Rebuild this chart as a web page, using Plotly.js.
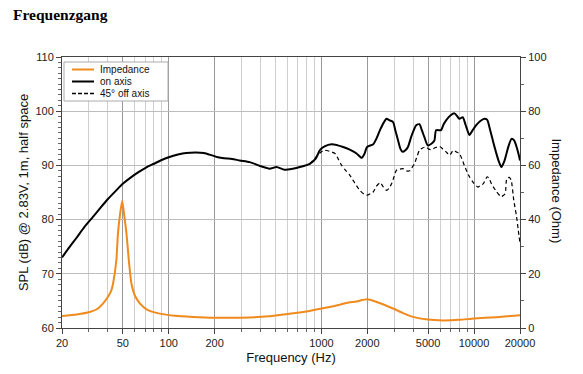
<!DOCTYPE html>
<html>
<head>
<meta charset="utf-8">
<script src="https://cdn.plot.ly/plotly-3.0.1.min.js"></script>
<style>html,body{margin:0;padding:0;background:#fff;}#chart{width:583px;height:374px;}</style>
</head>
<body>
<div id="chart"></div>
<script>
// ---- Data ----
var onAxisFreq = [20,22.5,25,28,31.9,36,40,45,50,56,63,71,80,90,100,115,130,150,170,190,210,230,260,292,339,396,458,508,574,650,722,840,920,978,1050,1166,1280,1388,1534,1700,1838,1920,1990,2185,2300,2420,2550,2670,2800,2950,3050,3180,3300,3400,3550,3690,3900,4180,4390,4550,4730,4970,5200,5500,5640,6080,6300,6560,7000,7440,7700,8020,8430,8800,9330,9800,10300,11000,11700,12200,12600,13300,14000,14500,15100,15800,16800,17600,18300,19000,19600,20000];
var onAxisSpl = [73.0,75.0,76.7,78.6,80.5,82.3,83.8,85.3,86.6,87.7,88.7,89.6,90.3,91.0,91.5,92.0,92.3,92.4,92.3,91.9,91.5,91.3,91.2,90.9,90.6,89.9,89.4,89.7,89.2,89.4,89.7,90.3,91.3,92.8,93.5,93.9,93.7,93.4,92.9,92.2,91.4,92.2,93.4,93.9,95.0,96.5,97.8,98.6,98.3,98.0,96.5,94.6,93.0,92.5,92.8,93.4,95.5,97.4,97.6,96.5,95.2,93.7,93.9,94.6,96.5,96.5,97.5,98.3,99.2,99.6,99.2,98.6,98.9,97.5,95.6,96.5,97.4,98.2,98.6,98.4,97.1,94.5,92.2,90.8,89.7,90.8,93.5,94.9,94.6,93.4,92.0,90.9];

var offAxisFreq = [840,920,1000,1050,1130,1228,1300,1358,1450,1534,1650,1786,1900,1990,2100,2185,2300,2430,2550,2670,2780,2880,3000,3100,3250,3420,3600,3780,3900,4070,4250,4390,4600,4850,5040,5240,5600,5960,6260,6560,6940,7300,7650,8020,8300,8640,9000,9330,9900,10600,11000,11480,12200,12600,13000,14000,15100,15600,16000,16400,17000,17500,18200,19000,19500,20000];
var offAxisSpl = [90.3,91.5,92.5,92.8,92.6,92.2,91.0,90.0,89.0,88.2,86.8,85.4,84.7,84.5,84.8,85.1,86.2,86.8,86.0,85.4,85.8,86.6,88.0,89.1,89.3,89.4,89.0,89.0,89.5,90.3,91.8,92.8,93.2,93.4,93.0,92.9,93.3,93.5,93.0,92.5,91.9,92.8,92.5,92.2,91.3,90.0,88.8,87.9,86.8,86.0,86.3,86.6,87.9,87.5,86.6,85.2,84.2,84.5,84.8,87.6,87.8,87.3,83.6,80.5,78.0,75.6];

var impFreq = [20,25,30.4,34,37.1,40,42.1,43.2,45.4,46.5,48,49.6,51,52.9,55,57,60,64.9,72,87.4,110,144,200,300,450,620,722,1000,1200,1460,1700,2000,2300,2600,2950,3400,3980,4970,6260,8000,10000,14000,20000];
var impOhm = [4.4,5.0,5.9,7.0,9.0,11.5,13.9,16.4,25,34.8,42,47,42,34.8,24,16.4,12,9.0,6.8,5.3,4.5,4.1,3.8,3.8,4.3,5.3,5.7,7.2,8.0,9.2,9.8,10.6,9.6,8.5,7.2,5.6,4.1,3.1,2.8,3.0,3.5,4.0,4.7];

var seriesNames = ['Impedance', 'on axis', '45° off axis'];
var xMajorTicks = [20,50,100,200,1000,2000,5000,10000,20000];
var xMajorLabels = ['20','50','100','200','1000','2000','5000','10000','20000'];
var xMinorTicks = [30,40,60,70,80,90,300,400,500,600,700,800,900,3000,4000,6000,7000,8000,9000];

// ---- Plot ----
var W = 583, H = 374, ML = 62, MR = 63, MT = 57, MB = 46;
var PW = W - ML - MR, PH = H - MT - MB;
function px(x){ return (x - ML) / PW; }
function py(y){ return (H - MB - y) / PH; }

var orange = '#f08a1c';
var tickFont = {family:'Liberation Sans, Arial, sans-serif', size:11, color:'#222'};
var traces = [
  {x:impFreq, y:impOhm, name:seriesNames[0], type:'scatter', mode:'lines', yaxis:'y2',
   line:{color:orange, width:2, shape:'spline', smoothing:0.6}},
  {x:onAxisFreq, y:onAxisSpl, name:seriesNames[1], type:'scatter', mode:'lines',
   line:{color:'#000', width:2, shape:'spline', smoothing:0.6}},
  {x:offAxisFreq, y:offAxisSpl, name:seriesNames[2], type:'scatter', mode:'lines',
   line:{color:'#000', width:1.2, dash:'4px,3px', shape:'spline', smoothing:0.6}}
];

// custom compact legend (box, samples, labels)
var legRows = [69.5, 81.5, 93.5];
var legStyles = [{color:orange, width:2}, {color:'#000', width:2}, {color:'#000', width:1.3, dash:'4px,2px'}];
var shapes = [{type:'rect', xref:'paper', yref:'paper', x0:px(64), x1:px(168), y0:py(101), y1:py(62),
               line:{color:'#aaa', width:1}, fillcolor:'#fff', layer:'above'}];
var annotations = [];
for (var i = 0; i < 3; i++) {
  shapes.push({type:'line', xref:'paper', yref:'paper', x0:px(72), x1:px(94), y0:py(legRows[i]), y1:py(legRows[i]),
               line:legStyles[i], layer:'above'});
  annotations.push({xref:'paper', yref:'paper', x:px(98.5), y:py(legRows[i]), xanchor:'left', yanchor:'middle',
                    showarrow:false, borderpad:0, text:seriesNames[i], font:{size:10, color:'#111'}});
}
annotations.push({xref:'paper', yref:'paper', x:px(556.5), y:py(191), xanchor:'center', yanchor:'middle',
                  showarrow:false, textangle:90, text:'Impedance (Ohm)', font:{size:13, color:'#111'}});

var layout = {
  width:W, height:H,
  margin:{l:ML, r:MR, t:MT, b:MB},
  paper_bgcolor:'#fff', plot_bgcolor:'#fff',
  font:{family:'Liberation Sans, Arial, sans-serif', color:'#222'},
  title:{text:'<b>Frequenzgang</b>', x:13/583, xref:'container', xanchor:'left',
         y:1-15/374, yref:'container', yanchor:'middle',
         font:{family:'Liberation Serif, Times New Roman, serif', size:15.5, color:'#000'}},
  showlegend:false,
  shapes:shapes, annotations:annotations,
  xaxis:{type:'log', range:[Math.log10(20), Math.log10(20000)],
         tickmode:'array', tickvals:xMajorTicks, ticktext:xMajorLabels,
         ticks:'outside', ticklen:5, tickcolor:'#444', tickfont:tickFont,
         showgrid:true, gridcolor:'#9a9a9a', gridwidth:1,
         minor:{tickmode:'array', tickvals:xMinorTicks, ticks:'outside', ticklen:3,
                tickcolor:'#666', showgrid:true, gridcolor:'#cfcfcf', gridwidth:1},
         showline:true, linecolor:'#444', linewidth:1, mirror:true, zeroline:false,
         title:{text:'Frequency (Hz)', font:{size:13, color:'#111'}, standoff:4}},
  yaxis:{range:[60,110], tickmode:'linear', tick0:60, dtick:10,
         ticks:'outside', ticklen:5, tickcolor:'#444', tickfont:tickFont,
         showgrid:true, gridcolor:'#bdbdbd', gridwidth:1,
         minor:{dtick:1, ticks:'outside', ticklen:3, tickcolor:'#666', showgrid:false},
         showline:true, linecolor:'#444', linewidth:1, zeroline:false,
         title:{text:'SPL (dB) @ 2.83V, 1m, half space', font:{size:13, color:'#111'}, standoff:3}},
  yaxis2:{range:[0,100], overlaying:'y', side:'right', tickmode:'linear', tick0:0, dtick:20,
          ticks:'outside', ticklen:5, tickcolor:'#444', tickfont:tickFont,
          minor:{dtick:10, ticks:'outside', ticklen:3, tickcolor:'#666', showgrid:false},
          showgrid:false, showline:true, linecolor:'#444', linewidth:1, zeroline:false}
};
Plotly.newPlot('chart', traces, layout, {displayModeBar:false, staticPlot:true});
</script>
</body>
</html>
